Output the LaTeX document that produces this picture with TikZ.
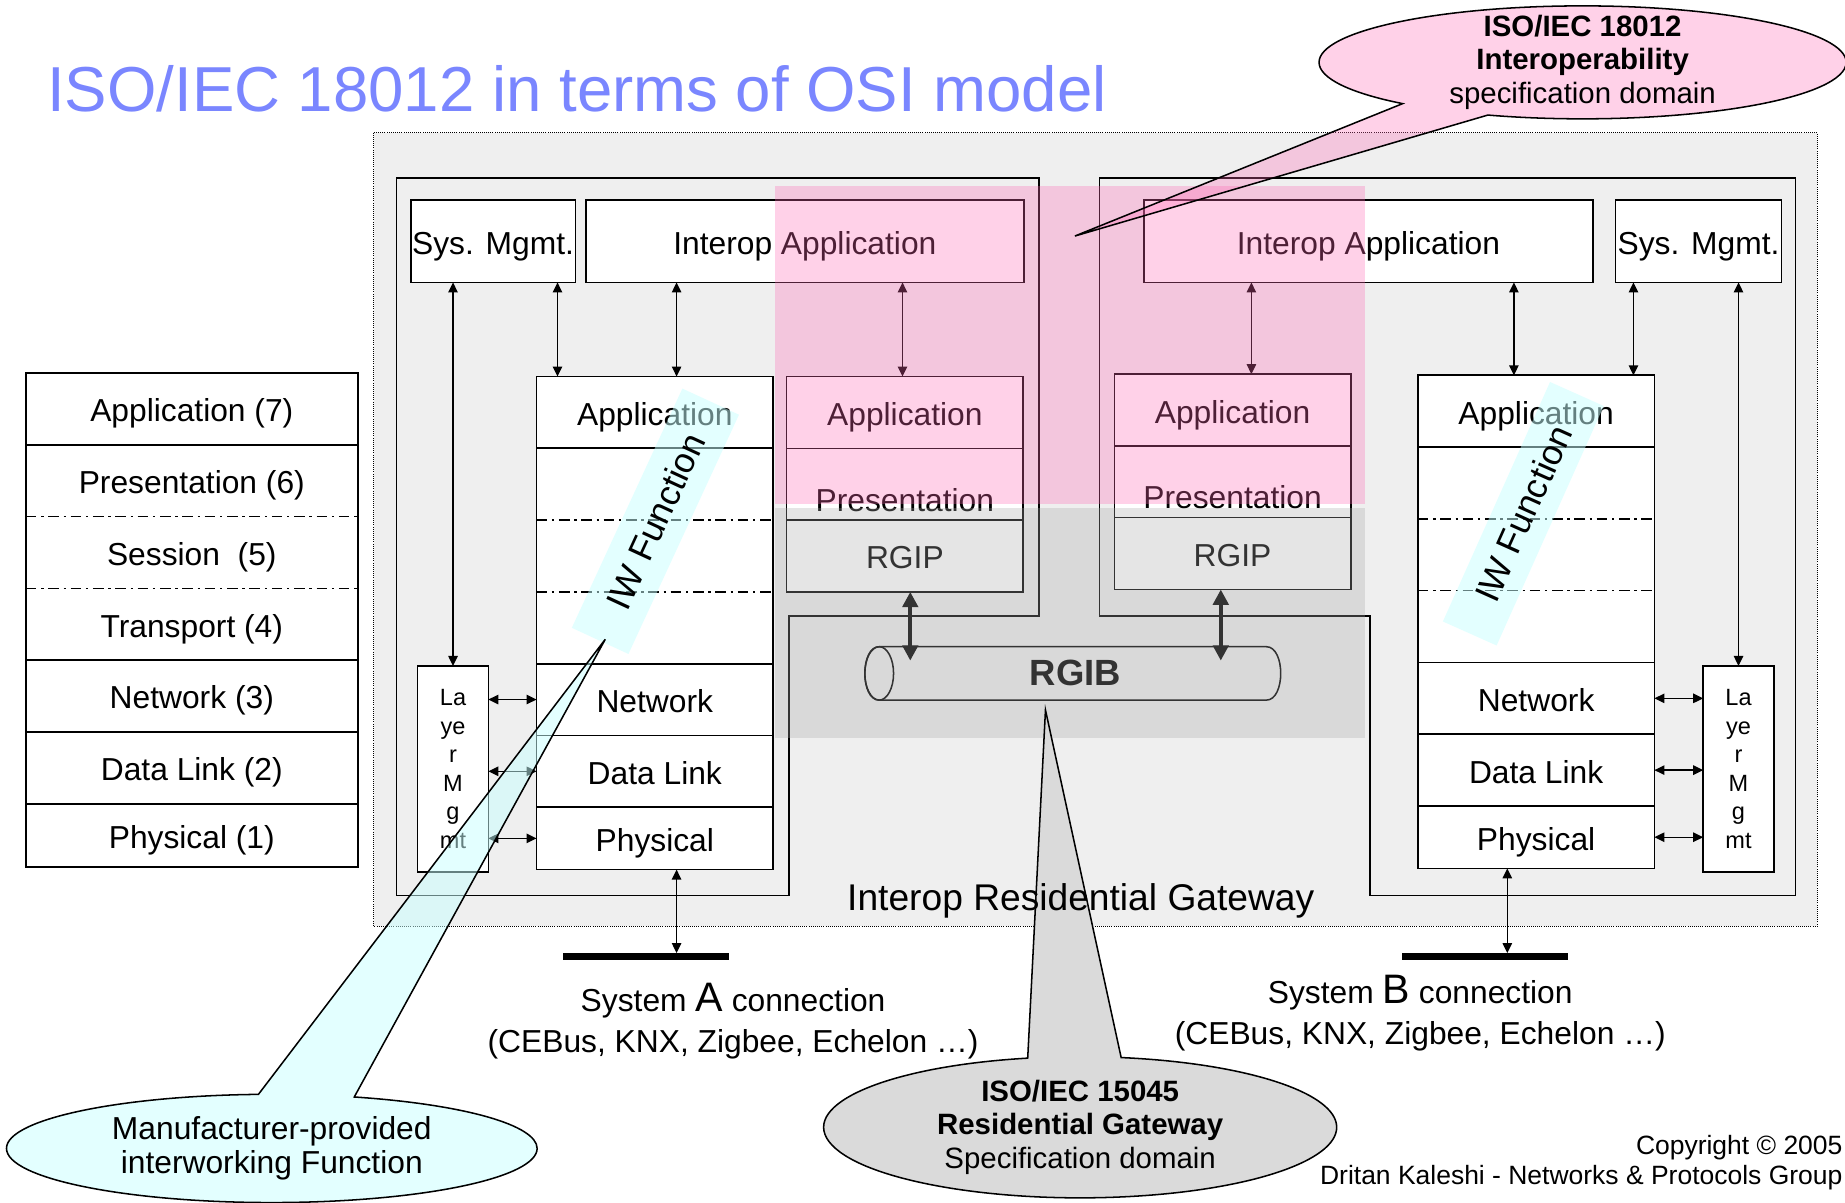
\documentclass[tikz,border=0pt]{standalone}
\usepackage{fontspec}
\setmainfont{Liberation Sans}
\usetikzlibrary{positioning,arrows.meta,shapes.geometric,shapes.callouts}

\definecolor{gwbg}{RGB}{239,239,239}
\definecolor{titleblue}{RGB}{122,134,255}
\definecolor{iopink}{RGB}{255,105,180}
\definecolor{rggray}{RGB}{169,169,169}
\definecolor{iwcyan}{RGB}{200,255,255}
\definecolor{rgcallout}{RGB}{218,218,218}

\newcommand{\boxfont}{\fontsize{27}{32}\selectfont}
\newcommand{\titlefont}{\fontsize{54}{60}\selectfont}
\newcommand{\gwfont}{\fontsize{31.6}{36}\selectfont}
\newcommand{\mgmtfont}{\fontsize{20}{24.3}\selectfont}
\newcommand{\callfont}{\fontsize{25}{28.5}\selectfont}
\newcommand{\iwcallfont}{\fontsize{27}{29}\selectfont}
\newcommand{\connfont}{\fontsize{27}{35}\selectfont}
\newcommand{\copyfont}{\fontsize{22.5}{26}\selectfont}
\newcommand{\iwfont}{\fontsize{30}{34}\selectfont}
\newcommand{\rgibfont}{\fontsize{31}{36}\selectfont\bfseries}

\begin{document}
\begin{tikzpicture}[x=1pt, y=-1pt,
osi/.style={fill=white, inner sep=0pt, outer sep=0pt, minimum width=282pt, minimum height=61pt, text height=24pt, text depth=2pt, font=\boxfont},
layer/.style={fill=white, inner sep=0pt, outer sep=0pt, minimum width=201pt, minimum height=61pt, text height=24pt, text depth=2pt, font=\boxfont},
cell/.style={draw, line width=1.3pt, fill=white, inner sep=0pt, outer sep=0pt, minimum width=201pt, minimum height=61pt, text height=24pt, text depth=2pt, font=\boxfont},
topbox/.style={draw, line width=1.5pt, fill=white, inner sep=0pt, outer sep=0pt, minimum height=70pt, text height=24pt, text depth=2pt, font=\boxfont},
mgmt/.style={draw, line width=1.3pt, fill=white, inner sep=0pt, outer sep=0pt, minimum width=60pt, minimum height=175pt, align=center, font=\mgmtfont},
stackline/.style={line width=1.5pt},
layersep/.style={line width=1.1pt, dash pattern=on 9pt off 4pt on 2pt off 4pt},
hostline/.style={line width=1.5pt},
link/.style={{Triangle[length=8.5pt,width=8pt]}-{Triangle[length=8.5pt,width=8pt]}, line width=1.1pt},
buslink/.style={{Triangle[length=13pt,width=13pt]}-{Triangle[length=13pt,width=13pt]}, line width=3.5pt},
bus/.style={fill=black, inner sep=0pt, outer sep=0pt, minimum width=141pt, minimum height=6pt},
iwband/.style={fill=iwcyan, fill opacity=0.5, text opacity=1, inner sep=0pt, font=\iwfont},
speech/.style={ellipse callout, draw, line width=1.3pt, inner sep=0pt, callout pointer arc=21}
]
\fill[white] (0,0) rectangle (1568,1022);
\useasboundingbox (0,0) rectangle (1568,1022);

\node[anchor=base west, inner sep=0pt, font=\titlefont, text=titleblue] (title) at (40,95) {ISO/IEC 18012 in terms of OSI model};

% OSI reference stack
\node[osi, anchor=north west] (app7) at (22,317) {Application (7)};
\node[osi, below=0pt of app7] (pres6) {Presentation (6)};
\node[osi, below=0pt of pres6] (sess5) {Session\ \ (5)};
\node[osi, below=0pt of sess5] (trans4) {Transport (4)};
\node[osi, below=0pt of trans4] (net3) {Network (3)};
\node[osi, below=0pt of net3] (dl2) {Data Link (2)};
\node[osi, below=0pt of dl2, minimum height=54pt] (phy1) {Physical (1)};
\draw[stackline] (app7.north west) rectangle (phy1.south east);
\foreach \n in {app7,trans4,net3,dl2} \draw[stackline] (\n.south west) -- (\n.south east);
\foreach \n in {pres6,sess5} \draw[layersep] (\n.south west) -- (\n.south east);

% gateway
\draw[densely dotted, line width=0.8pt, fill=gwbg] (317.5,112.7) rectangle (1544.5,787);
\draw[hostline] (337,151) -- (883,151) -- (883,523.5) -- (670.5,523.5) -- (670.5,761) -- (337,761) -- cycle;
\draw[hostline] (934.5,151) -- (1526,151) -- (1526,761) -- (1164.3,761) -- (1164.3,523.5) -- (934.5,523.5) -- cycle;

% top boxes
\node[topbox, minimum width=140pt, anchor=north west] (lsys) at (349,170) {Sys. Mgmt.};
\node[topbox, minimum width=372pt, anchor=north west] (liop) at (498,170) {Interop Application};
\node[topbox, minimum width=382pt, anchor=north west] (riop) at (972,170) {Interop Application};
\node[topbox, minimum width=141pt, anchor=north west] (rsys) at (1373,170) {Sys. Mgmt.};

% System A side stack
\node[layer, anchor=north west] (lapp) at (456,320) {Application};
\node[layer, below=0pt of lapp] (lup1) {};
\node[layer, below=0pt of lup1] (lup2) {};
\node[layer, below=0pt of lup2] (lup3) {};
\node[layer, below=0pt of lup3] (lnet) {Network};
\node[layer, below=0pt of lnet] (ldl) {Data Link};
\node[layer, below=0pt of ldl, minimum height=53pt] (lphy) {Physical};
\draw[stackline] (lapp.north west) rectangle (lphy.south east);
\foreach \n in {lapp,lup3,lnet,ldl} \draw[stackline] (\n.south west) -- (\n.south east);
\foreach \n in {lup1,lup2} \draw[layersep] (\n.south west) -- (\n.south east);

% System B side stack
\node[layer, anchor=north west] (rapp) at (1205,319) {Application};
\node[layer, below=0pt of rapp] (rup1) {};
\node[layer, below=0pt of rup1] (rup2) {};
\node[layer, below=0pt of rup2] (rup3) {};
\node[layer, below=0pt of rup3] (rnet) {Network};
\node[layer, below=0pt of rnet] (rdl) {Data Link};
\node[layer, below=0pt of rdl, minimum height=53pt] (rphy) {Physical};
\draw[stackline] (rapp.north west) rectangle (rphy.south east);
\foreach \n in {rapp,rup3,rnet,rdl} \draw[stackline] (\n.south west) -- (\n.south east);
\foreach \n in {rup1,rup2} \draw[layersep] (\n.south west) -- (\n.south east);

% RGIP stacks
\node[cell, anchor=north west] (lmapp) at (668.5,320) {Application};
\node[cell, below=0pt of lmapp] (lmpres) {};
\node[cell, below=0pt of lmpres] (lrgip) {RGIP};
\node[font=\boxfont, inner sep=0pt, above=7pt of lmpres.south] (lmprestxt) {Presentation};
\node[cell, anchor=north west] (rmapp) at (947,318) {Application};
\node[cell, below=0pt of rmapp] (rmpres) {};
\node[cell, below=0pt of rmpres] (rrgip) {RGIP};
\node[font=\boxfont, inner sep=0pt, above=7pt of rmpres.south] (rmprestxt) {Presentation};

% layer management
\node[mgmt, anchor=north west] (lmgmt) at (355,566) {La\\ye\\r\\M\\g\\mt};
\node[mgmt, anchor=north west] (rmgmt) at (1447.5,566) {La\\ye\\r\\M\\g\\mt};

% RGIB
\draw[line width=1.3pt, fill=gwbg] (747.2,549.6) -- (1076.2,549.6) .. controls (1092.5,549.6) and (1092.5,595) .. (1076.2,595) -- (747.2,595) .. controls (730.9,595) and (730.9,549.6) .. (747.2,549.6) -- cycle;
\draw[line width=1.3pt] (747.2,572.3) ellipse [x radius=12.2, y radius=22.7];
\node[minimum width=353pt, minimum height=45.4pt, inner sep=0pt, font=\rgibfont] (rgib) at (914,572.3) {RGIB};

% buses
\node[bus] (busa) at (549,813) {};
\node[bus] (busb) at (1262,813) {};

\coordinate (lx1) at (473.8,0);
\coordinate (lx2) at (575,0);
\coordinate (lx3) at (767,0);
\coordinate (lx4) at (773.6,0);
\coordinate (rx1) at (1063.5,0);
\coordinate (rx2) at (1286.6,0);
\coordinate (rx3) at (1388.2,0);
\coordinate (rx4) at (1037.5,0);
\coordinate (rx5) at (1281,0);

\draw[link] (lmgmt.north |- lsys.south) -- (lmgmt.north);
\draw[link] (lx1 |- lsys.south) -- (lx1 |- lapp.north);
\draw[link] (lx2 |- liop.south) -- (lx2 |- lapp.north);
\draw[link] (lx3 |- liop.south) -- (lx3 |- lmapp.north);
\draw[link] (lmgmt.east |- lnet.west) -- (lnet.west);
\draw[link] (lmgmt.east |- ldl.west) -- (ldl.west);
\draw[link] (lmgmt.east |- lphy.west) -- (lphy.west);
\draw[link] (lx2 |- lphy.south) -- (lx2 |- busa.north);

\draw[link] (rx1 |- riop.south) -- (rx1 |- rmapp.north);
\draw[link] (rx2 |- riop.south) -- (rx2 |- rapp.north);
\draw[link] (rx3 |- rsys.south) -- (rx3 |- rapp.north);
\draw[link] (rmgmt.north |- rsys.south) -- (rmgmt.north);
\draw[link] (rnet.east) -- (rmgmt.west |- rnet.east);
\draw[link] (rdl.east) -- (rmgmt.west |- rdl.east);
\draw[link] (rphy.east) -- (rmgmt.west |- rphy.east);
\draw[link] (rx5 |- rphy.south) -- (rx5 |- busb.north);

\draw[buslink, shorten >=-12pt] (lx4 |- lrgip.south) -- (lx4 |- rgib.north);
\draw[buslink, shorten >=-12pt] (rx4 |- rrgip.south) -- (rx4 |- rgib.north);

% interworking functions
\node[iwband, rotate=65.2, minimum width=224pt, minimum height=53pt] (liw) at (557,443) {IW Function};
\node[iwband, rotate=65.9, minimum width=223pt, minimum height=50pt] (riw) at (1294.6,436.6) {IW Function};

% specification domains
\fill[iopink, fill opacity=0.3] (658.5,157.8) rectangle (1160,428.3);
\fill[rggray, fill opacity=0.3] (658.5,432) rectangle (1160,627);

\node[align=center, font=\connfont, inner sep=0pt] (sysa) at (623,868) {System {\fontsize{35}{35}\selectfont A} connection\\(CEBus, KNX, Zigbee, Echelon …)};
\node[align=center, font=\connfont, inner sep=0pt] (sysb) at (1207,861) {System {\fontsize{35}{35}\selectfont B} connection\\(CEBus, KNX, Zigbee, Echelon …)};

\node[speech, fill=rgcallout, minimum width=436pt, minimum height=120pt, callout absolute pointer={(888.5,603.4)}] (rgcall) at (918,958) {};
\node[align=center, font=\callfont, inner sep=0pt] (rgtext) at (rgcall.center) {\textbf{ISO/IEC 15045}\\\textbf{Residential Gateway}\\Specification domain};

\node[font=\gwfont, inner sep=0pt, text height=28pt, text depth=2pt] (gwlabel) at (918.5,761) {Interop Residential Gateway};

\node[speech, fill=iopink, fill opacity=0.3, minimum width=448pt, minimum height=96pt, callout pointer arc=22, callout absolute pointer={(913.5,200.6)}] (iocall) at (1345,53) {};
\node[align=center, font=\callfont, inner sep=0pt] (iotext) at (iocall.center) {\textbf{ISO/IEC 18012}\\\textbf{Interoperability}\\specification domain};

\node[speech, fill=iwcyan, fill opacity=0.5, minimum width=451pt, minimum height=92pt, callout absolute pointer={(514.4,543.3)}] (iwcall) at (231,976) {};
\node[align=center, font=\iwcallfont, inner sep=0pt] (iwtext) at (iwcall.center) {Manufacturer-provided\\interworking Function};

\node[anchor=east, align=right, font=\copyfont, inner sep=0pt] (copy) at (1566,988) {Copyright © 2005\\Dritan Kaleshi - Networks \& Protocols Group};
\end{tikzpicture}
\end{document}
